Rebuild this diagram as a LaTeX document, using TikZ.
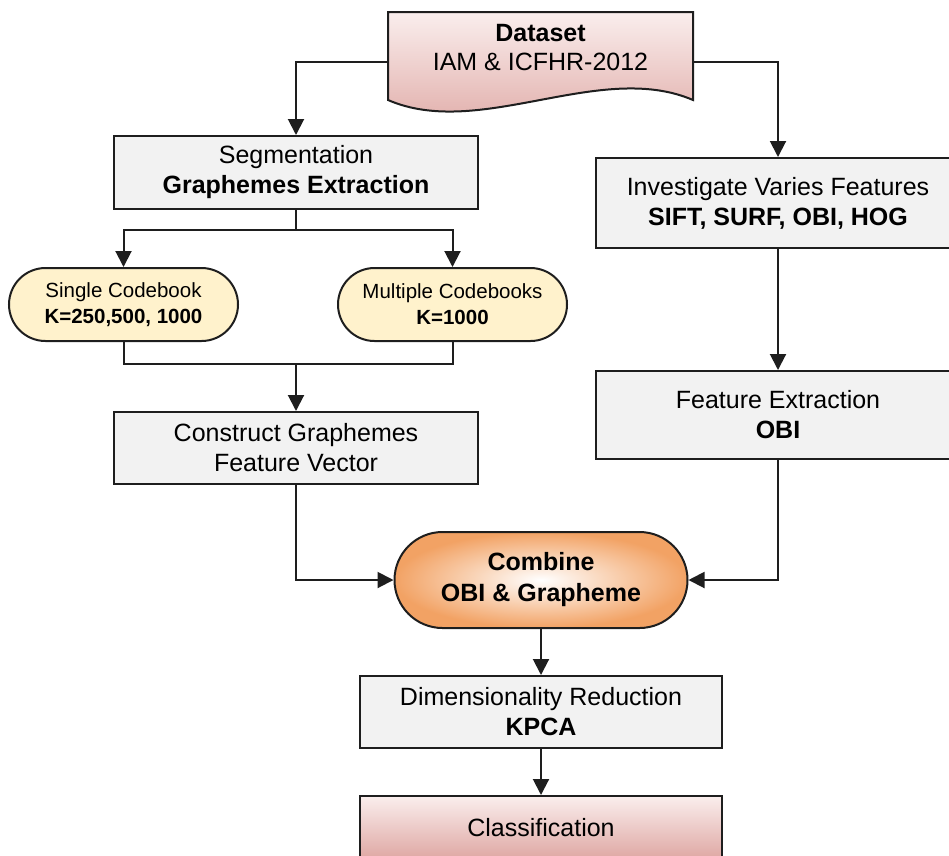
\documentclass[tikz,border=0pt]{standalone}
\usepackage{fontspec}
\setmainfont{Liberation Sans}
\usetikzlibrary{arrows.meta,shapes.misc}
\definecolor{boxfill}{RGB}{242,242,242}
\definecolor{pillfill}{RGB}{255,242,204}
\definecolor{pinktop}{RGB}{250,238,237}
\definecolor{pinkbot}{RGB}{222,166,162}
\definecolor{orangeout}{RGB}{242,162,100}
\definecolor{edgecol}{RGB}{30,30,30}
\tikzset{
  procbox/.style={draw=edgecol, line width=2pt, fill=boxfill, font=\fontsize{25}{30}\selectfont, align=center, inner sep=0pt},
  pinkbox/.style={draw=edgecol, line width=2pt, top color=pinktop, bottom color=pinkbot, font=\fontsize{25}{30}\selectfont, align=center, inner sep=0pt},
  pill/.style={rounded rectangle, draw=edgecol, line width=2pt, fill=pillfill, font=\fontsize{20.5}{26}\selectfont, align=center, inner sep=0pt, minimum width=229pt, minimum height=73pt},
  combbox/.style={rounded rectangle, draw=edgecol, line width=2pt, inner color=white, outer color=orangeout, font=\fontsize{25}{31}\selectfont\bfseries, align=center, inner sep=0pt, minimum width=293pt, minimum height=96pt},
  conn/.style={draw=edgecol, line width=2pt},
  arr/.style={-{Triangle[length=16pt,width=16pt]}}
}
\begin{document}
\begin{tikzpicture}[x=1pt,y=-1pt]
\useasboundingbox (0,0) rectangle (949,855);
\clip (0,0) rectangle (949,855);

% Dataset document shape
\shade[top color=pinktop,bottom color=pinkbot] (388,12) -- (693,12) -- (693,100) .. controls (600,60) and (480,140) .. (388,100) -- cycle;
\draw[edgecol, line width=2pt] (388,12) -- (693,12) -- (693,100) .. controls (600,60) and (480,140) .. (388,100) -- cycle;
\node[font=\fontsize{25}{29}\selectfont, align=center, inner sep=0pt] (ds) at (540.5,47.5) {\textbf{Dataset}\\IAM \& ICFHR-2012};
\coordinate (dsL) at (388,62);
\coordinate (dsR) at (693,62);

\node[procbox, minimum width=364pt, minimum height=73pt] (seg) at (296,172.5) {Segmentation\\\textbf{Graphemes Extraction}};
\node[pill] (single) at (123.5,304.5) {Single Codebook\\\textbf{K=250,500, 1000}};
\node[pill] (multi) at (452.5,304.5) {Multiple Codebooks\\\textbf{K=1000}};
\node[procbox, minimum width=364pt, minimum height=72pt] (cons) at (296,448) {Construct Graphemes\\Feature Vector};
\node[procbox, minimum width=364pt, minimum height=90pt] (inv) at (778,203) {Investigate Varies Features\\\textbf{SIFT, SURF, OBI, HOG}};
\node[procbox, minimum width=364pt, minimum height=88pt] (fe) at (778,415) {Feature Extraction\\\textbf{OBI}};
\node[combbox] (comb) at (541,580) {Combine\\OBI \& Grapheme};
\node[procbox, minimum width=362pt, minimum height=72pt] (dim) at (541,712) {Dimensionality Reduction\\\textbf{KPCA}};
\node[pinkbox, minimum width=362pt, minimum height=64pt] (cls) at (541,828) {Classification};

\coordinate (split) at (296,230);
\coordinate (join) at (296,364);

\draw[conn,arr] (dsL) -| (seg.north);
\draw[conn,arr] (dsR) -| (inv.north);
\draw[conn] (seg.south) -- (split);
\draw[conn,arr] (split) -| (single.north);
\draw[conn,arr] (split) -| (multi.north);
\draw[conn] (single.south) |- (join) -| (multi.south);
\draw[conn,arr] (join) -- (cons.north);
\draw[conn,arr] (cons.south) |- (comb.west);
\draw[conn,arr] (inv.south) -- (fe.north);
\draw[conn,arr] (fe.south) |- (comb.east);
\draw[conn,arr] (comb.south) -- (dim.north);
\draw[conn,arr] (dim.south) -- (cls.north);
\end{tikzpicture}
\end{document}
